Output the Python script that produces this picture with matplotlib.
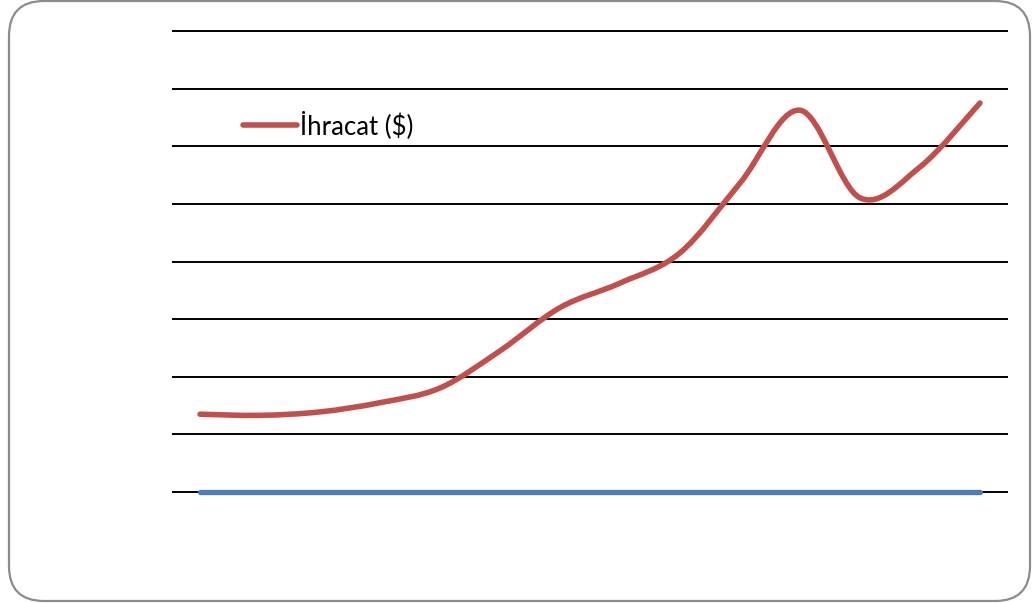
import matplotlib
matplotlib.use('Agg')
import matplotlib.pyplot as plt
import numpy as np
from matplotlib.path import Path
from matplotlib.patches import PathPatch, FancyBboxPatch

# Data (ihracat in billion $), 1998-2011
years = [1998, 1999, 2000, 2001, 2002, 2003, 2004, 2005, 2006, 2007, 2008, 2009, 2010, 2011]
ihracat = [27.0, 26.6, 27.8, 31.0, 36.1, 49.0, 64.0, 72.5, 83.0, 107.2, 132.5, 102.1, 112.8, 135.0]
ikinci_seri = [0] * len(years)

RED = '#C0504D'
BLUE = '#4A7EBB'


def smooth_path(xs, ys):
    # Catmull-Rom style smoothing (like Excel smoothed lines) as cubic Beziers
    xs = np.asarray(xs, float)
    ys = np.asarray(ys, float)
    n = len(xs)
    verts = [(xs[0], ys[0])]
    codes = [Path.MOVETO]
    for i in range(n - 1):
        p0 = i - 1 if i > 0 else i
        p3 = i + 2 if i + 2 < n else i + 1
        c1 = (xs[i] + (xs[i + 1] - xs[p0]) / 6, ys[i] + (ys[i + 1] - ys[p0]) / 6)
        c2 = (xs[i + 1] - (xs[p3] - xs[i]) / 6, ys[i + 1] - (ys[p3] - ys[i]) / 6)
        verts += [c1, c2, (xs[i + 1], ys[i + 1])]
        codes += [Path.CURVE4] * 3
    return Path(verts, codes)


fig = plt.figure(figsize=(10.32, 6.03), dpi=100)
fig.patch.set_facecolor('white')

# rounded border around the chart
border = FancyBboxPatch((0.09, 0.02), 10.21, 6.0,
                        boxstyle='round,pad=0,rounding_size=0.35',
                        transform=fig.dpi_scale_trans, facecolor='none',
                        edgecolor='#8C8C8C', linewidth=1.6)
fig.patches.append(border)

# 160 units = 461 px; pad 2 units top and bottom so edge gridlines are not clipped
px_per_unit = 461 / 160
pad = 2 * px_per_unit
ax = fig.add_axes([172 / 1032, (111 - pad) / 603, 836 / 1032, (461 + 2 * pad) / 603])
ax.set_xlim(-0.467, len(years) - 0.533)
ax.set_ylim(-2, 162)
ax.set_yticks(np.arange(0, 161, 20))
ax.yaxis.grid(True, color='black', linewidth=1.4)
ax.set_axisbelow(True)
ax.set_xticks([])
ax.tick_params(left=False, labelleft=False)
for spine in ax.spines.values():
    spine.set_visible(False)

x = np.arange(len(years))
ax.plot(x, ikinci_seri, color=BLUE, linewidth=3.8, solid_capstyle='round',
        label='_nolegend_', clip_on=False)
ax.add_patch(PathPatch(smooth_path(x, ihracat), facecolor='none', edgecolor=RED,
                       linewidth=4.0, capstyle='round', joinstyle='round',
                       clip_on=False))

handle = plt.Line2D([], [], color=RED, linewidth=4.0, solid_capstyle='round')
fig.legend([handle], ['İhracat ($)'], loc='center left',
           bbox_to_anchor=(243 / 1032, 478 / 603), frameon=False,
           borderpad=0, borderaxespad=0, handlelength=2.1, handletextpad=0.12,
           prop={'family': 'Lato', 'size': 18.5})

plt.savefig('out.png', dpi=100)
plt.close()
